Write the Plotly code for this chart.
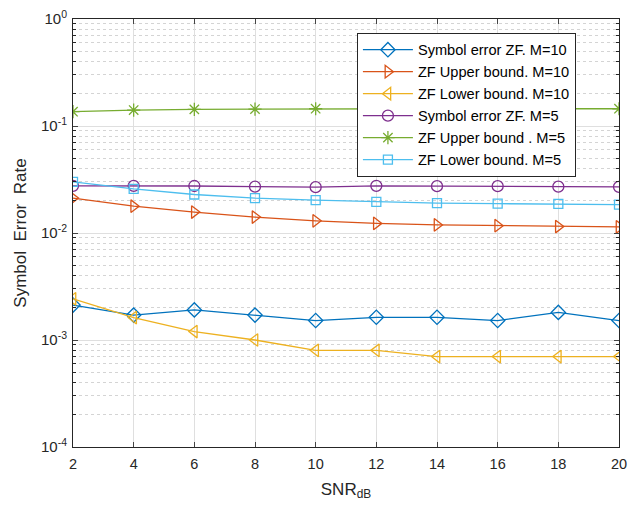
import plotly.graph_objects as go

snr = [2, 4, 6, 8, 10, 12, 14, 16, 18, 20]
ser_zf_m10 = [0.00212, 0.00171, 0.00191, 0.00171, 0.00152, 0.00163, 0.00163, 0.00152, 0.00181, 0.00152]
ub_zf_m10 = [0.0212, 0.0178, 0.0157, 0.0141, 0.0130, 0.0123, 0.0119, 0.0117, 0.0115, 0.0114]
lb_zf_m10 = [0.00242, 0.00162, 0.0012, 0.001, 0.0008, 0.0008, 0.0007, 0.0007, 0.0007, 0.0007]
ser_zf_m5 = [0.0276, 0.0276, 0.0275, 0.0271, 0.0268, 0.0276, 0.0274, 0.0274, 0.0271, 0.0270]
ub_zf_m5 = [0.136, 0.141, 0.143, 0.144, 0.145, 0.145, 0.145, 0.145, 0.145, 0.145]
lb_zf_m5 = [0.0300, 0.0258, 0.0229, 0.0212, 0.0203, 0.0195, 0.0190, 0.0188, 0.0187, 0.0184]

names = ["Symbol error ZF. M=10", "ZF Upper bound. M=10", "ZF Lower bound. M=10",
         "Symbol error ZF. M=5", "ZF Upper bound . M=5", "ZF Lower bound. M=5"]
series = [ser_zf_m10, ub_zf_m10, lb_zf_m10, ser_zf_m5, ub_zf_m5, lb_zf_m5]
colors = ["#0072BD", "#D95319", "#EDB120", "#7E2F8E", "#77AC30", "#4DBEEE"]
symbols = ["diamond-open", "triangle-right-open", "triangle-left-open",
           "circle-open", "asterisk-open", "square-open"]
sizes = [11, 11, 11, 11, 11, 9]

y_ticks = [1, 0.1, 0.01, 0.001, 0.0001]
y_ticktext = ["10<sup>0</sup>", "10<sup>-1</sup>", "10<sup>-2</sup>", "10<sup>-3</sup>", "10<sup>-4</sup>"]
x_ticks = [2, 4, 6, 8, 10, 12, 14, 16, 18, 20]

minor_vals = [m * 10 ** e for e in range(-4, 0) for m in range(2, 10)]

fig = go.Figure()
for n, s, c, sym, sz in zip(names, series, colors, symbols, sizes):
    fig.add_trace(go.Scatter(
        x=snr, y=s, name=n, mode="lines+markers",
        line=dict(color=c, width=1.3),
        marker=dict(symbol=sym, size=sz, color=c, line=dict(color=c, width=1.3)),
    ))

fig.update_layout(
    width=628, height=505,
    margin=dict(l=73, r=9, t=19, b=58),
    paper_bgcolor="white", plot_bgcolor="white",
    font=dict(family="Liberation Sans, Arial, sans-serif", size=15, color="#262626"),
    legend=dict(
        x=0.52, y=0.968, xanchor="left", yanchor="top",
        bgcolor="white", bordercolor="#262626", borderwidth=1,
        font=dict(size=14.6, color="#000000"),
        tracegroupgap=0, itemwidth=50,
    ),
    showlegend=True,
)

fig.update_xaxes(
    range=[2, 20], tickvals=x_ticks, ticks="inside", ticklen=5,
    showline=True, linecolor="#262626", linewidth=1, mirror="ticks",
    showgrid=True, gridcolor="#DFDFDF", gridwidth=1, zeroline=False,
    automargin=False, ticklabelstandoff=4,
    title=dict(text="SNR<sub>dB</sub>", font=dict(size=17), standoff=11),
    tickfont=dict(size=14.5),
)
fig.update_yaxes(
    type="log", range=[-4, 0], tickvals=y_ticks, ticktext=y_ticktext,
    ticks="inside", ticklen=5,
    showline=True, linecolor="#262626", linewidth=1, mirror="ticks",
    showgrid=True, gridcolor="#DFDFDF", gridwidth=1, zeroline=False,
    automargin=False, ticklabelstandoff=2,
    minor=dict(tickvals=minor_vals, ticks="inside", ticklen=3, tickcolor="#262626",
               showgrid=True, gridcolor="#D4D4D4", griddash="dot", gridwidth=1),
    title=dict(text="Symbol  Error  Rate", font=dict(size=17), standoff=10),
    tickfont=dict(size=15),
)

fig.write_html("out.html")
